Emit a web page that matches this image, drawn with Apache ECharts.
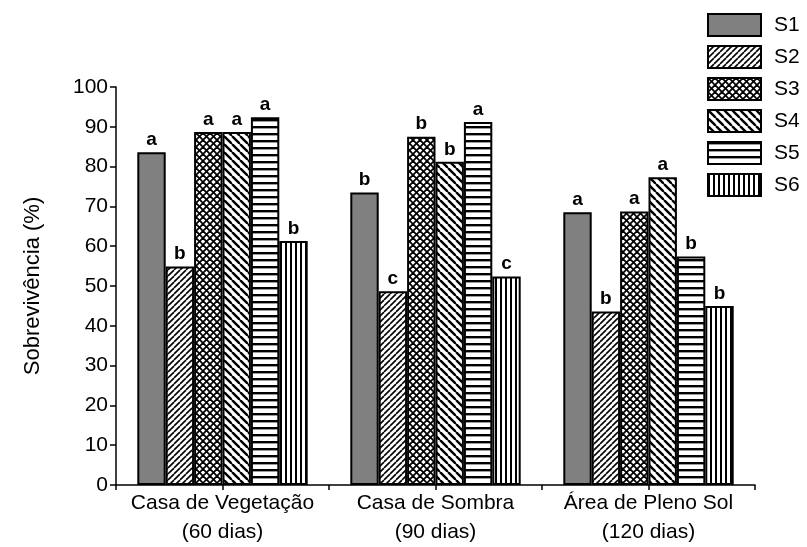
<!DOCTYPE html>
<html>
<head>
<meta charset="utf-8">
<script src="https://cdn.jsdelivr.net/npm/echarts@6/dist/echarts.min.js"></script>
<style>html,body{margin:0;padding:0;background:#fff}#c{width:807px;height:547px}</style>
</head>
<body>
<div id="c"></div>
<script>
var categories = ['Casa de Vegetação\n(60 dias)', 'Casa de Sombra\n(90 dias)', 'Área de Pleno Sol\n(120 dias)'];
var seriesNames = ['S1', 'S2', 'S3', 'S4', 'S5', 'S6'];
var S1 = [83.6, 73.5, 68.5];
var S2 = [54.9, 48.7, 43.6];
var S3 = [88.7, 87.5, 68.7];
var S4 = [88.7, 81.2, 77.3];
var S5 = [92.4, 91.2, 57.4];
var S6 = [61.3, 52.4, 45.0];
var L1 = ['a', 'b', 'a'];
var L2 = ['b', 'c', 'b'];
var L3 = ['a', 'b', 'a'];
var L4 = ['a', 'b', 'a'];
var L5 = ['a', 'a', 'b'];
var L6 = ['b', 'c', 'b'];
var yTicks = [0, 10, 20, 30, 40, 50, 60, 70, 80, 90, 100];

function tile(w, h, draw) {
  var c = document.createElement('canvas');
  c.width = w; c.height = h;
  var g = c.getContext('2d');
  g.fillStyle = '#fff'; g.fillRect(0, 0, w, h);
  g.strokeStyle = '#000'; g.fillStyle = '#000';
  draw(g, w, h);
  return { image: c, repeat: 'repeat' };
}
var patterns = [
  '#808080',
  tile(6, 6, function (g, w, h) {
    g.lineWidth = 1.6;
    for (var k = -1; k <= 1; k++) {
      g.beginPath(); g.moveTo(k * w, h); g.lineTo(k * w + w, 0); g.stroke();
    }
  }),
  tile(7, 7, function (g, w, h) {
    g.lineWidth = 1.8;
    for (var k = -1; k <= 1; k++) {
      g.beginPath(); g.moveTo(k * w, h); g.lineTo(k * w + w, 0); g.stroke();
      g.beginPath(); g.moveTo(k * w, 0); g.lineTo(k * w + w, h); g.stroke();
    }
  }),
  tile(8, 8, function (g, w, h) {
    g.lineWidth = 2.4;
    for (var k = -1; k <= 1; k++) {
      g.beginPath(); g.moveTo(k * w, 0); g.lineTo(k * w + w, h); g.stroke();
    }
  }),
  tile(4, 7, function (g, w, h) {
    g.fillRect(0, 0, w, 2.4);
  }),
  tile(5, 4, function (g, w, h) {
    g.fillRect(0, 0, 2, h);
  })
];

var values = [S1, S2, S3, S4, S5, S6];
var letters = [L1, L2, L3, L4, L5, L6];
var font = 'Liberation Sans, Arial, sans-serif';

var series = seriesNames.map(function (n, i) {
  return {
    name: n,
    type: 'bar',
    xAxisIndex: 0,
    data: values[i],
    barGap: '0%',
    barCategoryGap: '20%',
    itemStyle: { color: patterns[i], borderColor: '#000', borderWidth: 2 },
    label: {
      show: true, position: 'top', distance: 3,
      color: '#000', fontWeight: 'bold', fontSize: 19, fontFamily: font,
      formatter: function (p) { return letters[i][p.dataIndex]; }
    }
  };
});

var chart = echarts.init(document.getElementById('c'), null, { renderer: 'canvas' });
chart.setOption({
  animation: false,
  backgroundColor: '#fff',
  grid: { left: 116, right: 52, top: 87, bottom: 59, containLabel: false },
  legend: {
    orient: 'vertical', left: 702, top: 8, icon: 'rect',
    itemWidth: 53, itemHeight: 22, itemGap: 8,
    textStyle: { color: '#000', fontSize: 21, fontFamily: font, padding: [0, 0, 0, 8] },
    data: seriesNames
  },
  xAxis: [{
    type: 'category', data: categories,
    axisLine: { lineStyle: { color: '#000', width: 1.5 } },
    axisTick: { show: false },
    axisLabel: { interval: 0, color: '#000', fontSize: 21, fontFamily: font, lineHeight: 29, margin: 4 }
  }, {
    type: 'category', data: ['', '', '', '', '', ''], position: 'bottom',
    axisLine: { show: false },
    axisTick: { show: true, length: 5, lineStyle: { color: '#000', width: 1.5 } },
    axisLabel: { show: false }
  }],
  yAxis: {
    type: 'value', min: 0, max: 100, interval: 10,
    name: 'Sobrevivência (%)', nameLocation: 'middle', nameGap: 72,
    nameTextStyle: { color: '#000', fontSize: 22, fontFamily: font },
    axisLine: { show: true, lineStyle: { color: '#000', width: 1.5 } },
    axisTick: { show: true, length: 6, lineStyle: { color: '#000', width: 1.5 } },
    axisLabel: { color: '#000', fontSize: 21, fontFamily: font, margin: 8,
      formatter: function (v) { return yTicks.indexOf(v) >= 0 ? String(v) : ''; } },
    splitLine: { show: false }
  },
  series: series
});
</script>
</body>
</html>
